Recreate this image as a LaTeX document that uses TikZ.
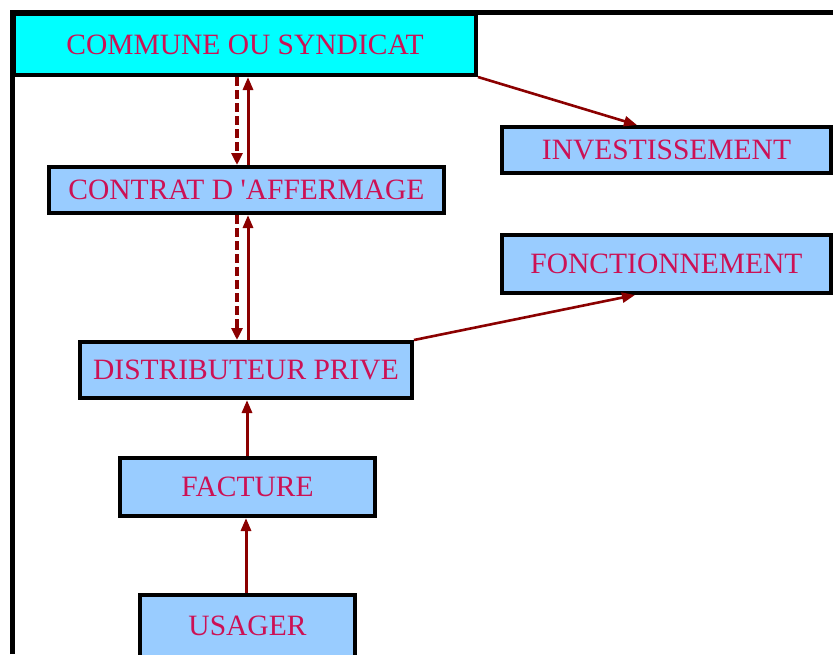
\documentclass[tikz,border=0pt]{standalone}
\usepackage{fontspec}
\setmainfont{Liberation Serif}
\usetikzlibrary{arrows.meta}
\definecolor{txtred}{HTML}{CC1155}
\definecolor{arrred}{HTML}{8B0000}
\definecolor{boxblue}{HTML}{99CCFF}
\definecolor{cyanbox}{HTML}{00FFFF}
\tikzset{
  box/.style={draw=black, line width=4pt, fill=boxblue, inner sep=0pt,
    text=txtred, font=\fontsize{29.5}{32}\selectfont},
  upline/.style={draw=arrred, line width=3pt, -{Triangle[length=13pt,width=10pt]}},
  downdash/.style={draw=arrred, line width=3.8pt, dash pattern=on 9pt off 4pt, -{Triangle[length=12pt,width=11pt]}},
  diag/.style={draw=arrred, line width=2.6pt, -{Triangle[length=13pt,width=10pt]}}
}
\begin{document}
\begin{tikzpicture}[x=1pt,y=-1pt]
\useasboundingbox (0,0) rectangle (833,654);
\fill[white] (0,0) rectangle (833,654);
% frame
\draw[line width=5pt] (12.5,654) -- (12.5,12) -- (833,12);
% nodes
\node[box, fill=cyanbox, minimum width=462pt, minimum height=61pt] (commune) at (245,44.5) {COMMUNE OU SYNDICAT};
\node[box, minimum width=395pt, minimum height=46pt] (contrat) at (246.5,190) {CONTRAT D \textquotesingle AFFERMAGE};
\node[box, minimum width=329pt, minimum height=46pt] (invest) at (666.5,150) {INVESTISSEMENT};
\node[box, minimum width=329pt, minimum height=58pt] (fonct) at (666.5,264) {FONCTIONNEMENT};
\node[box, minimum width=332pt, minimum height=56pt] (distrib) at (246,370) {DISTRIBUTEUR PRIVE};
\node[box, minimum width=255pt, minimum height=58pt] (facture) at (247.5,487) {FACTURE};
\node[box, minimum width=215pt, minimum height=62pt] (usager) at (247.5,626) {USAGER};
% connectors
\draw[downdash] (237,0 |- commune.south) -- (237,0 |- contrat.north);
\draw[upline] (248,0 |- contrat.north) -- (248,0 |- commune.south);
\draw[downdash] (237,0 |- contrat.south) -- (237,0 |- distrib.north);
\draw[upline] (248,0 |- distrib.north) -- (248,0 |- contrat.south);
\draw[upline] (247,0 |- facture.north) -- (247,0 |- distrib.south);
\draw[upline] (246,0 |- usager.north) -- (246,0 |- facture.south);
\draw[diag] (commune.south east) -- (637,0 |- invest.north);
\draw[diag] (distrib.north east) -- (635,0 |- fonct.south);
\end{tikzpicture}
\end{document}
